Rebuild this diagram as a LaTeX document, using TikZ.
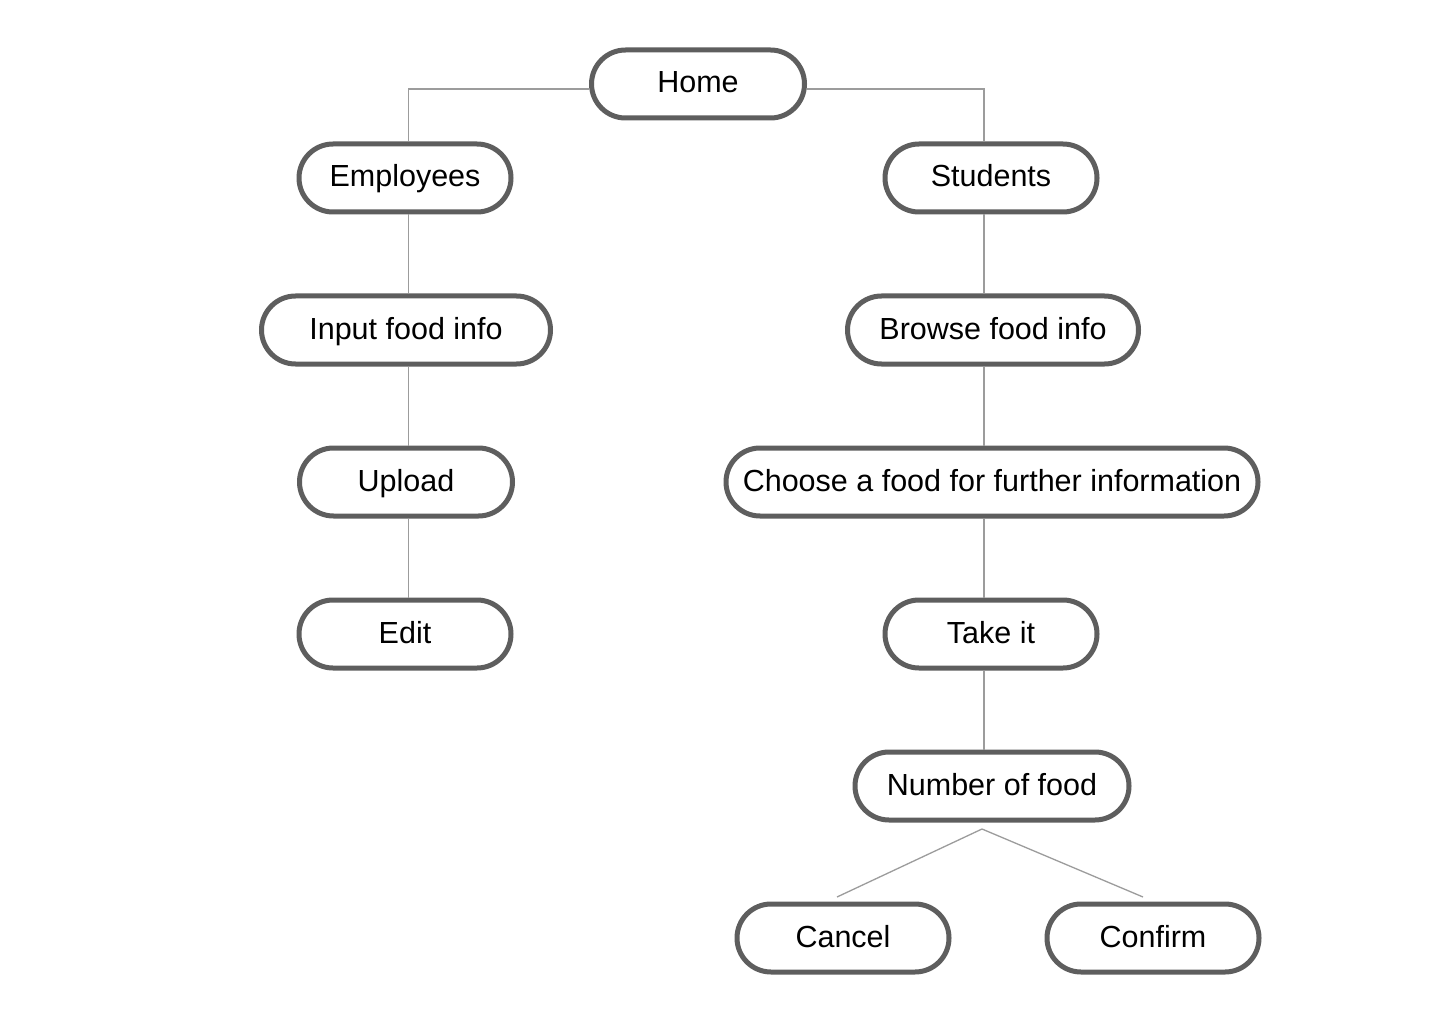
\documentclass[tikz,border=0pt]{standalone}
\usepackage{fontspec}
\setmainfont{Liberation Sans}
\definecolor{boxline}{HTML}{5E5E5E}
\definecolor{conn}{HTML}{9C9C9C}
\begin{document}
\begin{tikzpicture}[x=1pt,y=-1pt,
  pill/.style={draw=boxline, line width=5pt, fill=white, rounded corners=34pt,
    minimum height=68pt, inner sep=0pt, text height=24pt, text depth=6pt,
    font=\fontsize{30.5}{36}\selectfont, text=black},
  link/.style={draw=conn, line width=1.3pt}]
\useasboundingbox[fill=white] (0,0) rectangle (1440,1024);
% nodes
\node[pill, minimum width=213pt] (home) at (698,84) {Home};
\node[pill, minimum width=212pt] (emp) at (405,178) {Employees};
\node[pill, minimum width=212pt] (stu) at (991,178) {Students};
\node[pill, minimum width=289pt] (inp) at (406,330) {Input food info};
\node[pill, minimum width=291pt] (brw) at (993,330) {Browse food info};
\node[pill, minimum width=213pt] (upl) at (406,482) {Upload};
\node[pill, minimum width=532pt] (cho) at (992,482) {Choose a food for further information};
\node[pill, minimum width=212pt] (edt) at (405,634) {Edit};
\node[pill, minimum width=212pt] (tak) at (991,634) {Take it};
\node[pill, minimum width=274pt] (num) at (992,786) {Number of food};
\node[pill, minimum width=212pt] (can) at (843,938) {Cancel};
\node[pill, minimum width=212pt] (con) at (1153,938) {Confirm};
% helper coordinates
\coordinate (L) at (408.5,0);
\coordinate (R) at (984,0);
\coordinate (hy) at (0,89);
\coordinate (fk) at (982,829);
\coordinate (cl) at (837,897);
\coordinate (cr) at (1143,897);
% connectors
\draw[link] (home.west |- hy) -| (emp.north -| L);
\draw[link] (home.east |- hy) -| (stu.north -| R);
\draw[link] (emp.south -| L) -- (inp.north -| L);
\draw[link] (inp.south -| L) -- (upl.north -| L);
\draw[link] (upl.south -| L) -- (edt.north -| L);
\draw[link] (stu.south -| R) -- (brw.north -| R);
\draw[link] (brw.south -| R) -- (cho.north -| R);
\draw[link] (cho.south -| R) -- (tak.north -| R);
\draw[link] (tak.south -| R) -- (num.north -| R);
\draw[link] (cl) -- (fk) -- (cr);
\end{tikzpicture}
\end{document}
